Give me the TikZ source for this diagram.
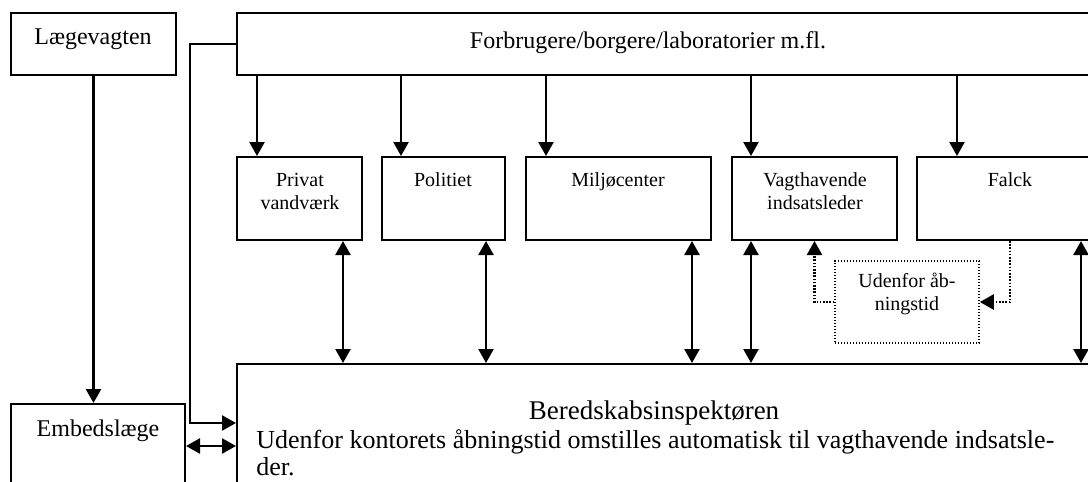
\documentclass[tikz,border=0pt]{standalone}
\usepackage{fontspec}
\setmainfont{Liberation Serif}
\usetikzlibrary{arrows.meta,fit,calc}
\begin{document}
\begin{tikzpicture}[x=0.5pt,y=-0.5pt,
  boxr/.style={draw,line width=1pt,inner sep=0pt,fit=#1},
  dotbox/.style={draw,line width=0.8pt,dash pattern=on 0.6pt off 0.9pt,inner sep=0pt,fit=#1},
  big/.style={font=\fontsize{12pt}{13.5pt}\selectfont,inner sep=0pt,anchor=base},
  small/.style={font=\fontsize{10pt}{11.5pt}\selectfont,inner sep=0pt,anchor=base,align=center},
  arr/.style={line width=1.2pt,-{Triangle[length=7pt,width=7.5pt]}},
  darr/.style={line width=1.2pt,{Triangle[length=7pt,width=7.5pt]}-{Triangle[length=7pt,width=7.5pt]}},
  dotarr/.style={line width=1.2pt,dash pattern=on 0.8pt off 0.8pt,-{Triangle[length=7pt,width=7.5pt]}}]
\useasboundingbox (0,0) rectangle (1088,482);
\clip (0,0) rectangle (1088,482);
% corner coordinates
\coordinate (lv1) at (11,13);   \coordinate (lv2) at (176,75);
\coordinate (fb1) at (237,13);  \coordinate (fb2) at (1110,75);
\coordinate (pv1) at (237,157); \coordinate (pv2) at (362,240);
\coordinate (po1) at (382,157); \coordinate (po2) at (505,240);
\coordinate (mi1) at (526,157); \coordinate (mi2) at (711,240);
\coordinate (va1) at (732,157); \coordinate (va2) at (897,240);
\coordinate (fa1) at (917,157); \coordinate (fa2) at (1103,240);
\coordinate (ud1) at (835,261); \coordinate (ud2) at (979,343);
\coordinate (em1) at (11,404);  \coordinate (em2) at (185,500);
\coordinate (be1) at (237,364); \coordinate (be2) at (1110,500);
% boxes
\node[boxr=(lv1)(lv2)] (lv) {};
\node[boxr=(fb1)(fb2)] (fb) {};
\node[boxr=(pv1)(pv2)] (pv) {};
\node[boxr=(po1)(po2)] (po) {};
\node[boxr=(mi1)(mi2)] (mi) {};
\node[boxr=(va1)(va2)] (va) {};
\node[boxr=(fa1)(fa2)] (fa) {};
\node[dotbox=(ud1)(ud2)] (ud) {};
\node[boxr=(em1)(em2)] (em) {};
\node[boxr=(be1)(be2)] (be) {};
% texts (base anchor = baseline of last line)
\node[big] (lvt) at (93,45) {Lægevagten};
\node[big] (fbt) at (648,48) {Forbrugere/borgere/laboratorier m.fl.};
\node[small] (pvt) at (300,209) {Privat\\vandværk};
\node[small] (pot) at (443,186) {Politiet};
\node[small] (mit) at (618,186) {Miljøcenter};
\node[small] (vat) at (815,209) {Vagthavende\\indsatsleder};
\node[small] (fat) at (1010,186) {Falck};
\node[small] (udt) at (907,310) {Udenfor åb-\\ningstid};
\node[big] (emt) at (98,436) {Embedslæge};
\node[big,font=\fontsize{13.5pt}{15pt}\selectfont] (bet) at (654,419) {Beredskabsinspektøren};
\node[big,font=\fontsize{13pt}{13.5pt}\selectfont,anchor=base west,align=left] (bett) at (256,475) {Udenfor kontorets åbningstid omstilles automatisk til vagthavende indsatsle-\\der.};
% connectors
\draw[arr] (lv.south) -- (lv.south |- em.north);
\coordinate (d1) at ($(pv.north west)+(21,0)$);
\coordinate (d2) at ($(po.north west)+(20,0)$);
\coordinate (d3) at ($(mi.north west)+(21,0)$);
\coordinate (d4) at ($(va.north west)+(20,0)$);
\coordinate (d5) at ($(fa.north west)+(41,0)$);
\foreach \c in {d1,d2,d3,d4,d5} \draw[arr] (\c |- fb.south) -- (\c);
\coordinate (u1) at ($(pv.south east)+(-20,0)$);
\coordinate (u2) at ($(po.south east)+(-20,0)$);
\coordinate (u3) at ($(mi.south east)+(-20,0)$);
\coordinate (u4) at ($(va.south west)+(20,0)$);
\coordinate (u5) at ($(fa.south west)+(165,0)$);
\foreach \c in {u1,u2,u3,u4,u5} \draw[darr] (\c) -- (\c |- be.north);
\draw[dotarr] (ud.west) -| (va.south);
\draw[dotarr] (fa.south) |- (ud.east);
\coordinate (kx) at (190,423);
\draw[arr] (fb.west) -| (kx) -- (kx -| be.west);
\coordinate (ey) at (0,446);
\draw[darr] (ey -| em.east) -- (ey -| be.west);
\end{tikzpicture}
\end{document}
